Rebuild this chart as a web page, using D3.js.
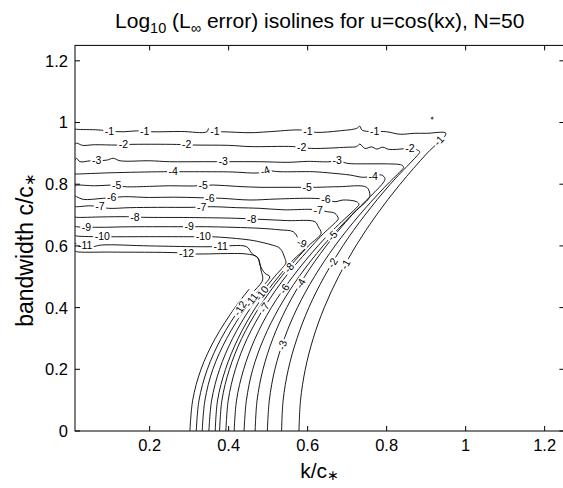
<!DOCTYPE html>
<html><head><meta charset="utf-8">
<script src="https://cdn.jsdelivr.net/npm/d3@7"></script>
<style>body{margin:0;background:#fff} text{font-family:"Liberation Sans",Arial,Helvetica,sans-serif;}</style>
</head><body><svg id="c" width="563" height="488"></svg>
<script>
// contour levels (log10 of L-inf error)
const levels = [-1,-2,-3,-4,-5,-6,-7,-8,-9,-10,-11,-12];
// each isoline as [k/c*, c/c*] points
const iso1 = [[0.011,0.979],[0.0152,0.978],[0.07,0.976],[0.1,0.972],[0.133,0.970],[0.167,0.973],[0.205,0.970],[0.28,0.971],[0.345,0.970],[0.349,0.981],[0.353,0.970],[0.386,0.970],[0.454,0.967],[0.50,0.970],[0.58,0.976],[0.60,0.972],[0.623,0.968],[0.68,0.973],[0.724,0.981],[0.732,0.988],[0.738,0.975],[0.80,0.970],[0.834,0.962],[0.87,0.965],[0.901,0.965],[0.95,0.965],[0.902,0.9],[0.834,0.8],[0.774,0.7],[0.722,0.6],[0.678,0.5],[0.642,0.4],[0.614,0.3],[0.594,0.2],[0.582,0.1],[0.578,0]];
const iso2 = [[0.011,0.930],[0.0152,0.933],[0.03,0.926],[0.06,0.928],[0.1165,0.927],[0.146,0.929],[0.268,0.929],[0.315,0.927],[0.40,0.926],[0.454,0.922],[0.5635,0.922],[0.61,0.916],[0.70,0.920],[0.724,0.922],[0.732,0.930],[0.745,0.916],[0.762,0.921],[0.775,0.914],[0.79,0.920],[0.805,0.913],[0.825,0.913],[0.859,0.916],[0.876,0.912],[0.884,0.905],[0.882,0.9],[0.809,0.8],[0.745,0.7],[0.689,0.6],[0.642,0.5],[0.603,0.4],[0.573,0.3],[0.551,0.2],[0.538,0.1],[0.534,0]];
const iso3 = [[0.011,0.878],[0.0152,0.884],[0.0235,0.873],[0.05,0.876],[0.0911,0.878],[0.108,0.884],[0.125,0.876],[0.2,0.876],[0.25,0.873],[0.336,0.873],[0.403,0.873],[0.479,0.873],[0.55,0.871],[0.60,0.874],[0.6565,0.873],[0.675,0.878],[0.699,0.868],[0.75,0.866],[0.80,0.866],[0.838,0.862],[0.843,0.855],[0.838,0.846],[0.802,0.8],[0.731,0.7],[0.669,0.6],[0.617,0.5],[0.574,0.4],[0.541,0.3],[0.517,0.2],[0.503,0.1],[0.498,0]];
const iso4 = [[0.011,0.833],[0.0152,0.833],[0.10,0.837],[0.2344,0.8405],[0.2851,0.8405],[0.40,0.840],[0.4792,0.8373],[0.4919,0.8438],[0.53,0.8405],[0.6142,0.8405],[0.66,0.836],[0.7071,0.8298],[0.7408,0.8224],[0.766,0.8266],[0.7873,0.8298],[0.7957,0.8191],[0.793,0.808],[0.712,0.7],[0.647,0.6],[0.592,0.5],[0.547,0.4],[0.512,0.3],[0.487,0.2],[0.472,0.1],[0.467,0]];
const iso5 = [[0.011,0.795],[0.0152,0.797],[0.06,0.795],[0.1165,0.797],[0.1375,0.792],[0.20,0.793],[0.25,0.795],[0.3104,0.7942],[0.361,0.7974],[0.42,0.793],[0.4792,0.79],[0.53,0.79],[0.5805,0.79],[0.6228,0.79],[0.68,0.792],[0.7494,0.79],[0.7577,0.765],[0.755,0.754],[0.711,0.7],[0.639,0.6],[0.578,0.5],[0.528,0.4],[0.489,0.3],[0.461,0.2],[0.445,0.1],[0.439,0]];
const iso6 = [[0.011,0.762],[0.0152,0.7595],[0.0319,0.751],[0.0825,0.7543],[0.1332,0.7595],[0.20,0.757],[0.26,0.758],[0.3273,0.7562],[0.3823,0.7543],[0.4539,0.7488],[0.52,0.752],[0.6101,0.7543],[0.6463,0.751],[0.6691,0.7433],[0.6901,0.7488],[0.7241,0.7433],[0.73,0.735],[0.726,0.727],[0.671,0.66],[0.626,0.6],[0.562,0.5],[0.508,0.4],[0.467,0.3],[0.438,0.2],[0.420,0.1],[0.414,0]];
const iso7 = [[0.011,0.728],[0.0152,0.7271],[0.05,0.730],[0.0742,0.7271],[0.0952,0.7219],[0.15,0.724],[0.22,0.725],[0.3104,0.7251],[0.357,0.7271],[0.42,0.724],[0.4792,0.7219],[0.54,0.717],[0.6058,0.7186],[0.6268,0.7164],[0.6496,0.7109],[0.6691,0.7057],[0.6775,0.6895],[0.676,0.684],[0.64,0.64],[0.611,0.6],[0.544,0.5],[0.490,0.4],[0.447,0.3],[0.417,0.2],[0.399,0.1],[0.393,0]];
const iso8 = [[0.011,0.694],[0.0152,0.6927],[0.08,0.694],[0.1418,0.6947],[0.1838,0.6927],[0.30,0.692],[0.4203,0.6895],[0.4792,0.6862],[0.55,0.682],[0.6185,0.6784],[0.6268,0.6622],[0.634,0.641],[0.602,0.6],[0.533,0.5],[0.477,0.4],[0.433,0.3],[0.402,0.2],[0.383,0.1],[0.377,0]];
const iso9 = [[0.011,0.664],[0.0152,0.6622],[0.0699,0.6603],[0.15,0.662],[0.302,0.6622],[0.3443,0.6622],[0.4792,0.6571],[0.53,0.652],[0.5635,0.646],[0.5762,0.6246],[0.585,0.61],[0.599,0.603],[0.56,0.55],[0.526,0.5],[0.468,0.4],[0.424,0.3],[0.392,0.2],[0.372,0.1],[0.366,0]];
const iso10 = [[0.011,0.634],[0.0152,0.6321],[0.0868,0.6298],[0.20,0.630],[0.3104,0.6298],[0.357,0.6298],[0.4539,0.6191],[0.4876,0.6104],[0.51,0.603],[0.5299,0.5922],[0.5425,0.5598],[0.545,0.545],[0.539,0.533],[0.516,0.5],[0.456,0.4],[0.410,0.3],[0.377,0.2],[0.357,0.1],[0.350,0]];
const iso11 = [[0.011,0.609],[0.0152,0.6062],[0.0532,0.5974],[0.0785,0.6029],[0.20,0.600],[0.319,0.5974],[0.3653,0.5974],[0.4456,0.5974],[0.4582,0.576],[0.4749,0.5598],[0.4792,0.5381],[0.4919,0.5112],[0.504,0.5],[0.472,0.45],[0.443,0.4],[0.395,0.3],[0.360,0.2],[0.340,0.1],[0.333,0]];
const iso12 = [[0.011,0.584],[0.0152,0.5812],[0.10,0.580],[0.2684,0.578],[0.319,0.5737],[0.38,0.575],[0.4456,0.5737],[0.4709,0.565],[0.4792,0.5436],[0.4818,0.5219],[0.486,0.49],[0.462,0.45],[0.430,0.4],[0.381,0.3],[0.346,0.2],[0.325,0.1],[0.318,0]];
const isoExtra = [[0.452,0.46],[0.416,0.4],[0.366,0.3],[0.330,0.2],[0.309,0.1],[0.302,0]];
const isoDot = [[0.912,1.014],[0.917,1.017],[0.916,1.011],[0.912,1.014]];
const isolines = [iso1,iso2,iso3,iso4,iso5,iso6,iso7,iso8,iso9,iso10,iso11,iso12];

// inline labels: level, k, c
const labelLevels = [-1,-1,-1,-1,-1,-1,-1, -2,-2,-2,-2,-2, -3,-3,-3,-3, -4,-4,-4,-4, -5,-5,-5,-5, -6,-6,-6,-6, -7,-7,-7,-7, -8,-8,-8, -9,-9,-9, -10,-10,-10, -11,-11,-11, -12,-12];
const labelK = [0.0995,0.1881,0.3653,0.6015,0.7704,0.9349,0.6987, 0.1332,0.2937,0.5848,0.859,0.6648, 0.0658,0.3863,0.675,0.535, 0.2597,0.4919,0.7661,0.5805, 0.1165,0.3357,0.599,0.6608, 0.1038,0.3527,0.6463,0.5382, 0.0742,0.3316,0.6268,0.4876, 0.1628,0.4582,0.5509, 0.040,0.300,0.5848, 0.080,0.336,0.4792, 0.036,0.380,0.4582, 0.2937,0.4286];
const labelC = [0.9919,0.9812,0.9887,0.9812,0.9812,0.9378,0.5381, 0.9326,0.9303,0.9216,0.9164,0.5436, 0.8762,0.8762,0.8784,0.2788, 0.8373,0.8438,0.8266,0.4797, 0.7974,0.7974,0.7919,0.6353, 0.7575,0.7575,0.751,0.4635, 0.7271,0.7251,0.7164,0.4029, 0.6927,0.6895,0.5316, 0.6645,0.6645,0.6062, 0.6298,0.6321,0.4515, 0.5974,0.5997,0.4246, 0.5812,0.3977];

const xTicks = [0.2,0.4,0.6,0.8,1,1.2];
const yTicks = [0,0.2,0.4,0.6,0.8,1,1.2];
const xDomain = [0.011,1.25], yDomain = [0,1.25];

const svg = d3.select("#c");
const L = 75, R = 564.4, T = 45.4, B = 431;
const x = d3.scaleLinear().domain(xDomain).range([L,R]);
const y = d3.scaleLinear().domain(yDomain).range([B,T]);

svg.append("defs").append("clipPath").attr("id","pc")
  .append("rect").attr("x",L).attr("y",T).attr("width",R-L).attr("height",B-T);

const g = svg.append("g").attr("clip-path","url(#pc)");
const line = d3.line().x(d=>x(d[0])).y(d=>y(d[1])).curve(d3.curveCatmullRom.alpha(0.5));
const allLines = isolines.concat([isoExtra, isoDot]);
g.selectAll("path.iso").data(allLines).join("path").attr("class","iso")
  .attr("d",line).attr("fill","none").attr("stroke","#000").attr("stroke-width",0.9);

// labels: snap onto their isoline, rotate along it
function snap(pts, px, py){
  let best=null, bd=Infinity;
  for(let i=0;i<pts.length-1;i++){
    const ax=x(pts[i][0]), ay=y(pts[i][1]), bx=x(pts[i+1][0]), by=y(pts[i+1][1]);
    const dx=bx-ax, dy=by-ay, l2=dx*dx+dy*dy||1;
    let t=((px-ax)*dx+(py-ay)*dy)/l2; t=Math.max(0,Math.min(1,t));
    const qx=ax+t*dx, qy=ay+t*dy, d=(qx-px)**2+(qy-py)**2;
    if(d<bd){bd=d; let a=Math.atan2(dy,dx)*180/Math.PI; if(a>90)a-=180; if(a<-90)a+=180; best={x:qx,y:qy,a:a};}
  }
  return best;
}
const lg = svg.append("g");
labelLevels.forEach((lev,i)=>{
  const pts = isolines[levels.indexOf(lev)];
  const s = snap(pts, x(labelK[i]), y(labelC[i]));
  const a = Math.abs(s.a) < 12 ? 0 : s.a;
  const gg = lg.append("g").attr("transform",`translate(${s.x},${s.y}) rotate(${a})`);
  const t = gg.append("text").attr("text-anchor","middle").attr("dy","0.35em")
    .attr("font-size",10.5).attr("fill","#000").text(String(lev));
  const w = t.node().getComputedTextLength();
  gg.insert("rect","text").attr("x",-w/2-1.5).attr("y",-4.5).attr("width",w+3).attr("height",9).attr("fill","#fff");
});

// axes box
svg.append("rect").attr("x",L).attr("y",T).attr("width",R-L).attr("height",B-T)
  .attr("fill","none").attr("stroke","#000").attr("stroke-width",1);
const tk = 5;
xTicks.forEach(v=>{
  svg.append("line").attr("x1",x(v)).attr("x2",x(v)).attr("y1",B).attr("y2",B-tk).attr("stroke","#000");
  svg.append("line").attr("x1",x(v)).attr("x2",x(v)).attr("y1",T).attr("y2",T+tk).attr("stroke","#000");
  svg.append("text").attr("x",x(v)).attr("y",B+20).attr("text-anchor","middle").attr("font-size",16.5).text(d3.format("~g")(v));
});
yTicks.forEach(v=>{
  svg.append("line").attr("x1",L).attr("x2",L+tk).attr("y1",y(v)).attr("y2",y(v)).attr("stroke","#000");
  svg.append("line").attr("x1",R).attr("x2",R-tk).attr("y1",y(v)).attr("y2",y(v)).attr("stroke","#000");
  svg.append("text").attr("x",L-7).attr("y",y(v)).attr("dy","0.36em").attr("text-anchor","end").attr("font-size",16.5).text(d3.format("~g")(v));
});

// title
const tt = svg.append("text").attr("x",(L+R)/2).attr("y",28).attr("text-anchor","middle").attr("font-size",21);
tt.append("tspan").text("Log");
tt.append("tspan").attr("font-size",14.5).attr("dy",5).text("10");
tt.append("tspan").attr("dy",-5).text(" (L");
tt.append("tspan").attr("font-size",14.5).attr("dy",5).text("\u221E");
tt.append("tspan").attr("dy",-5).text(" error) isolines for u=cos(kx), N=50");

// axis labels
const xl = svg.append("text").attr("x",(L+R)/2).attr("y",478).attr("text-anchor","middle").attr("font-size",21);
xl.append("tspan").text("k/c");
xl.append("tspan").attr("font-size",14).attr("dy",2).text("\u2217");
const yl = svg.append("text").attr("transform",`translate(33,250) rotate(-90)`).attr("text-anchor","middle").attr("font-size",23);
yl.append("tspan").text("bandwidth c/c");
yl.append("tspan").attr("font-size",15).attr("dy",2).text("\u2217");
</script></body></html>
